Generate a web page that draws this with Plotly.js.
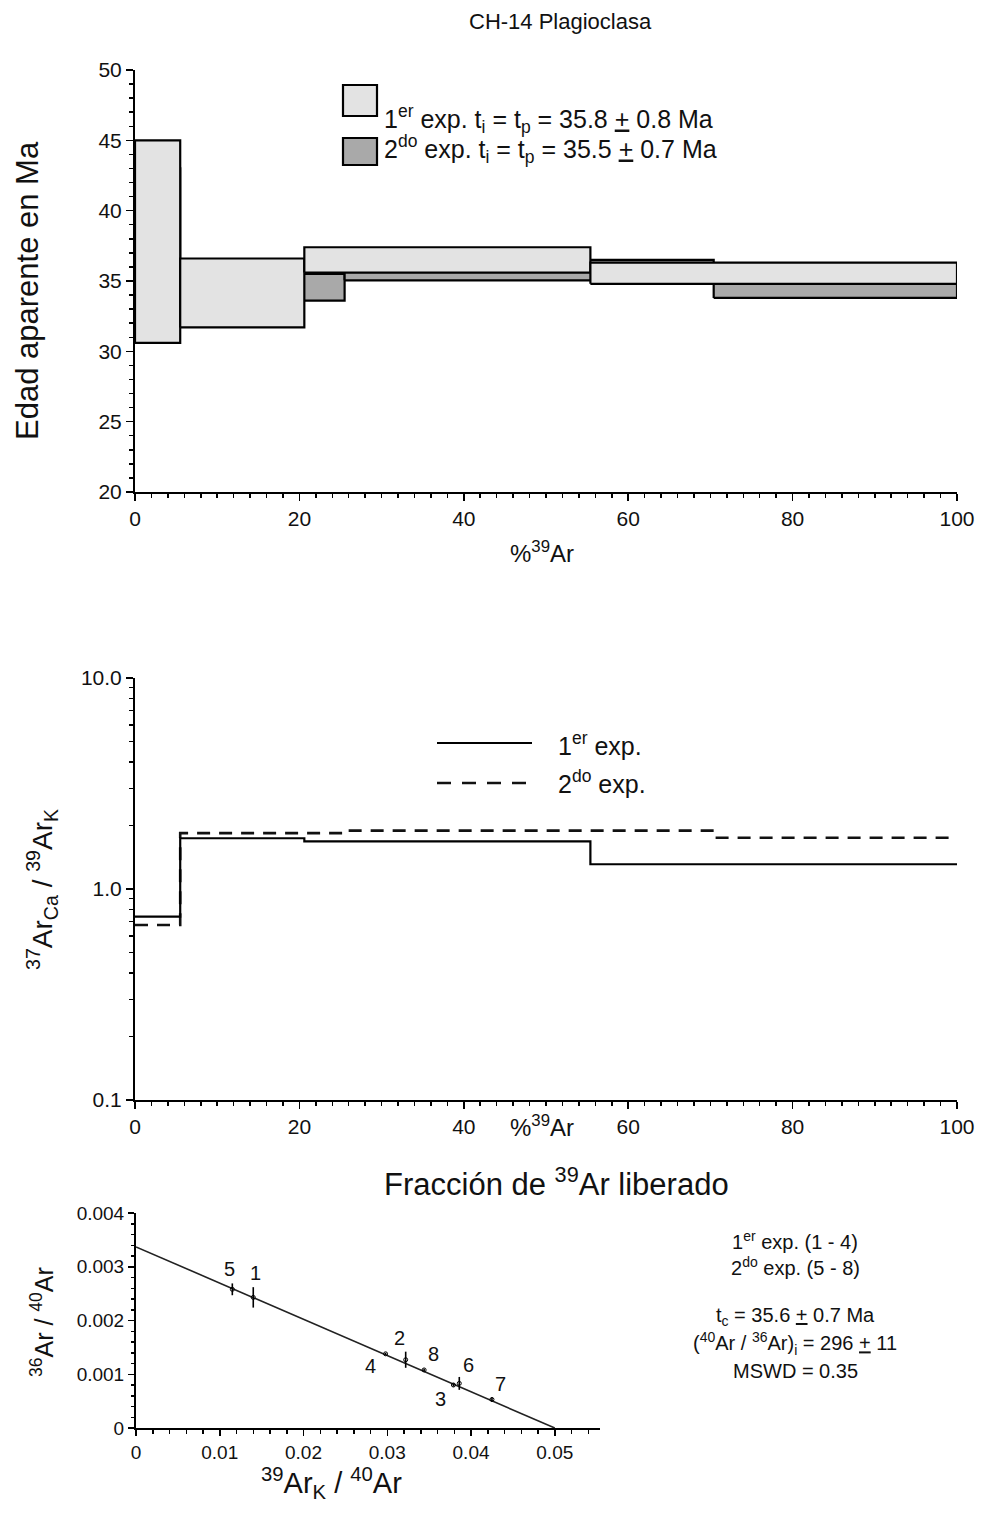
<!DOCTYPE html>
<html>
<head>
<meta charset="utf-8">
<script src="https://cdn.plot.ly/plotly-3.0.1.min.js"></script>
<style>html,body{margin:0;padding:0;background:#fff;}#plot{width:984px;height:1515px;}</style>
</head>
<body>
<div id="plot"></div>
<script>
// ---------- DATA ----------
// Age spectrum (step heating), % 39Ar released
var exp1Edges = [0, 5.5, 20.6, 55.4, 100];
var exp1Low   = [30.6, 31.7, 35.6, 34.8];
var exp1High  = [45.0, 36.6, 37.4, 36.3];
var exp2Edges = [0, 5.5, 25.5, 70.4, 100];
var exp2Low   = [32.0, 33.6, 35.05, 33.8];
var exp2High  = [43.0, 35.5, 36.5, 36.2];

// 37ArCa/39ArK spectrum
var ratio1 = [0.74, 1.74, 1.68, 1.31];
var ratio2 = [0.675, 1.84, 1.89, 1.75];

// Inverse isochron
var isoLabels = ['1', '2', '3', '4', '5', '6', '7', '8'];
var isoX   = [0.0140, 0.0322, 0.0379, 0.0298, 0.0115, 0.0386, 0.0425, 0.0344];
var isoY   = [0.00243, 0.00127, 0.00080, 0.00138, 0.00258, 0.00083, 0.00053, 0.00108];
var isoErr = [0.00019, 0.00015, 0.00003, 0.00002, 0.00011, 0.00012, 0.00004, 0.00002];
var isoLineX = [0, 0.0500];
var isoLineY = [0.00337, 0];

// Tick labels
var ageTicks = [20, 25, 30, 35, 40, 45, 50];
var pctTicks = [0, 20, 40, 60, 80, 100];
var ratioTicks = [0.1, 1, 10];
var ratioTickText = ['0.1', '1.0', '10.0'];
var isoXTicks = [0, 0.01, 0.02, 0.03, 0.04, 0.05];
var isoXTickText = ['0', '0.01', '0.02', '0.03', '0.04', '0.05'];
var isoYTicks = [0, 0.001, 0.002, 0.003, 0.004];
var isoYTickText = ['0', '0.001', '0.002', '0.003', '0.004'];

// ---------- STYLE / LAYOUT HELPERS ----------
var W = 984, H = 1515;
function px(x) { return x / W; }
function py(y) { return 1 - y / H; }
var FONT = 'Liberation Sans, Arial, Helvetica, sans-serif';
var LIGHT = '#e3e3e3', DARK = '#a9a9a9';
var labelShift = {
  '1': [2, -24], '2': [-6, -22], '3': [-13, 14], '4': [-15, 12],
  '5': [-3, -20], '6': [9, -18], '7': [9, -16], '8': [9, -16]
};

var traces = [];
function boxTraces(edges, low, high, fill, name) {
  for (var i = 0; i < low.length; i++) {
    traces.push({
      x: [edges[i], edges[i + 1], edges[i + 1], edges[i], edges[i]],
      y: [low[i], low[i], high[i], high[i], low[i]],
      mode: 'lines', fill: 'toself', fillcolor: fill,
      line: { color: '#000', width: 2.2 },
      xaxis: 'x', yaxis: 'y', showlegend: false, hoverinfo: 'skip', name: name
    });
  }
}
boxTraces(exp2Edges, exp2Low, exp2High, DARK, '2do exp.');
boxTraces(exp1Edges, exp1Low, exp1High, LIGHT, '1er exp.');

function stepY(v) { return v.concat([v[v.length - 1]]); }
traces.push({
  x: exp2Edges, y: stepY(ratio2), mode: 'lines', line: { shape: 'hv', color: '#111', width: 2.6, dash: '13px,9px' },
  xaxis: 'x2', yaxis: 'y2', showlegend: false, hoverinfo: 'skip'
});
traces.push({
  x: exp1Edges, y: stepY(ratio1), mode: 'lines', line: { shape: 'hv', color: '#000', width: 2.2 },
  xaxis: 'x2', yaxis: 'y2', showlegend: false, hoverinfo: 'skip'
});

traces.push({
  x: isoLineX, y: isoLineY, mode: 'lines', line: { color: '#222', width: 1.6 },
  xaxis: 'x3', yaxis: 'y3', showlegend: false, hoverinfo: 'skip'
});
traces.push({
  x: isoX, y: isoY, mode: 'markers',
  marker: { symbol: 'circle-open', size: 4, color: '#000', line: { width: 1 } },
  error_y: { type: 'data', array: isoErr, visible: true, color: '#000', thickness: 1.6, width: 0 },
  xaxis: 'x3', yaxis: 'y3', showlegend: false, hoverinfo: 'skip'
});

var annotations = [];
function ann(text, x, y, size, opts) {
  var a = { text: text, x: px(x), y: py(y), xref: 'paper', yref: 'paper', showarrow: false,
            font: { family: FONT, size: size, color: '#111' }, xanchor: 'center', yanchor: 'middle' };
  for (var k in opts) a[k] = opts[k];
  annotations.push(a);
}
ann('CH-14 Plagioclasa', 560, 22, 22);
ann('Edad aparente en Ma', 28, 291, 31, { textangle: -90 });
ann('%<sup>39</sup>Ar', 542, 552, 24);
ann('1<sup>er</sup> exp. t<sub>i</sub> = t<sub>p</sub> = 35.8 <u>+</u> 0.8 Ma', 382, 119, 25, { xanchor: 'left' });
ann('2<sup>do</sup> exp. t<sub>i</sub> = t<sub>p</sub> = 35.5 <u>+</u> 0.7 Ma', 382, 149, 25, { xanchor: 'left' });

ann('<sup>37</sup>Ar<sub>Ca</sub> / <sup>39</sup>Ar<sub>K</sub>', 42, 890, 28, { textangle: -90 });
ann('1<sup>er</sup> exp.', 556, 744, 25, { xanchor: 'left' });
ann('2<sup>do</sup> exp.', 556, 782, 25, { xanchor: 'left' });
ann('%<sup>39</sup>Ar', 542, 1126, 24);
ann('Fracción de <sup>39</sup>Ar liberado', 556, 1182, 31);

ann('<sup>36</sup>Ar / <sup>40</sup>Ar', 42, 1322, 25, { textangle: -90 });
ann('<sup>39</sup>Ar<sub>K</sub> / <sup>40</sup>Ar', 331, 1483, 29);
ann('1<sup>er</sup> exp. (1 - 4)', 795, 1240, 20);
ann('2<sup>do</sup> exp. (5 - 8)', 795, 1266, 20);
ann('t<sub>c</sub> = 35.6 <u>+</u> 0.7 Ma', 795, 1316, 20);
ann('(<sup>40</sup>Ar / <sup>36</sup>Ar)<sub>i</sub> = 296 <u>+</u> 11', 795, 1343, 20);
ann('MSWD = 0.35', 795, 1371, 20);

for (var i = 0; i < isoX.length; i++) {
  var s = labelShift[isoLabels[i]];
  annotations.push({ text: isoLabels[i], x: isoX[i], y: isoY[i], xref: 'x3', yref: 'y3', showarrow: false,
    xshift: s[0], yshift: -s[1], font: { family: FONT, size: 20, color: '#111' } });
}

var shapes = [
  { type: 'rect', xref: 'paper', yref: 'paper', x0: px(343), x1: px(377), y0: py(116), y1: py(85),
    fillcolor: LIGHT, line: { color: '#000', width: 2.2 } },
  { type: 'rect', xref: 'paper', yref: 'paper', x0: px(343), x1: px(377), y0: py(165), y1: py(138),
    fillcolor: DARK, line: { color: '#000', width: 2.2 } },
  { type: 'line', xref: 'paper', yref: 'paper', x0: px(437), x1: px(532), y0: py(743), y1: py(743),
    line: { color: '#000', width: 2.2 } },
  { type: 'line', xref: 'paper', yref: 'paper', x0: px(437), x1: px(528), y0: py(783), y1: py(783),
    line: { color: '#111', width: 2.6, dash: '14px,11px' } }
];

function axisBase(extra) {
  var a = { showgrid: false, zeroline: false, showline: true, linecolor: '#000', linewidth: 2,
    ticks: 'outside', ticklen: 7, tickwidth: 1.5, tickcolor: '#000',
    tickfont: { family: FONT, size: 21, color: '#111' }, fixedrange: true };
  for (var k in extra) a[k] = extra[k];
  return a;
}

var layout = {
  width: W, height: H, margin: { l: 0, r: 0, t: 0, b: 0 },
  paper_bgcolor: '#fff', plot_bgcolor: 'rgba(0,0,0,0)', showlegend: false,
  xaxis: axisBase({ domain: [px(135), px(957)], range: [0, 100], anchor: 'y',
    tickvals: pctTicks, minor: { dtick: 2, ticks: 'outside', ticklen: 4, tickcolor: '#000' } }),
  yaxis: axisBase({ domain: [py(492), py(70)], range: [20, 50], anchor: 'x',
    tickvals: ageTicks, minor: { dtick: 1, ticks: 'outside', ticklen: 4, tickcolor: '#000' } }),
  xaxis2: axisBase({ domain: [px(135), px(957)], range: [0, 100], anchor: 'y2',
    tickvals: pctTicks, minor: { dtick: 2, ticks: 'outside', ticklen: 4, tickcolor: '#000' } }),
  yaxis2: axisBase({ domain: [py(1100), py(678)], type: 'log', range: [-1, 1], anchor: 'x2',
    tickvals: ratioTicks, ticktext: ratioTickText,
    minor: { tickmode: 'array', tickvals: [0.2,0.3,0.4,0.5,0.6,0.7,0.8,0.9,2,3,4,5,6,7,8,9],
             ticks: 'outside', ticklen: 4, tickcolor: '#000' } }),
  xaxis3: axisBase({ domain: [px(136), px(600)], range: [0, 0.0554], anchor: 'y3',
    tickvals: isoXTicks, ticktext: isoXTickText, ticklen: 6, tickfont: { family: FONT, size: 19, color: '#111' },
    minor: { dtick: 0.002, ticks: 'outside', ticklen: 4, tickcolor: '#000' } }),
  yaxis3: axisBase({ domain: [py(1428), py(1213)], range: [0, 0.004], anchor: 'x3',
    tickvals: isoYTicks, ticktext: isoYTickText, ticklen: 6, tickfont: { family: FONT, size: 19, color: '#111' },
    minor: { dtick: 0.0002, ticks: 'outside', ticklen: 3, tickcolor: '#000' } }),
  annotations: annotations,
  shapes: shapes
};

Plotly.newPlot('plot', traces, layout, { staticPlot: true, displayModeBar: false });
</script>
</body>
</html>
